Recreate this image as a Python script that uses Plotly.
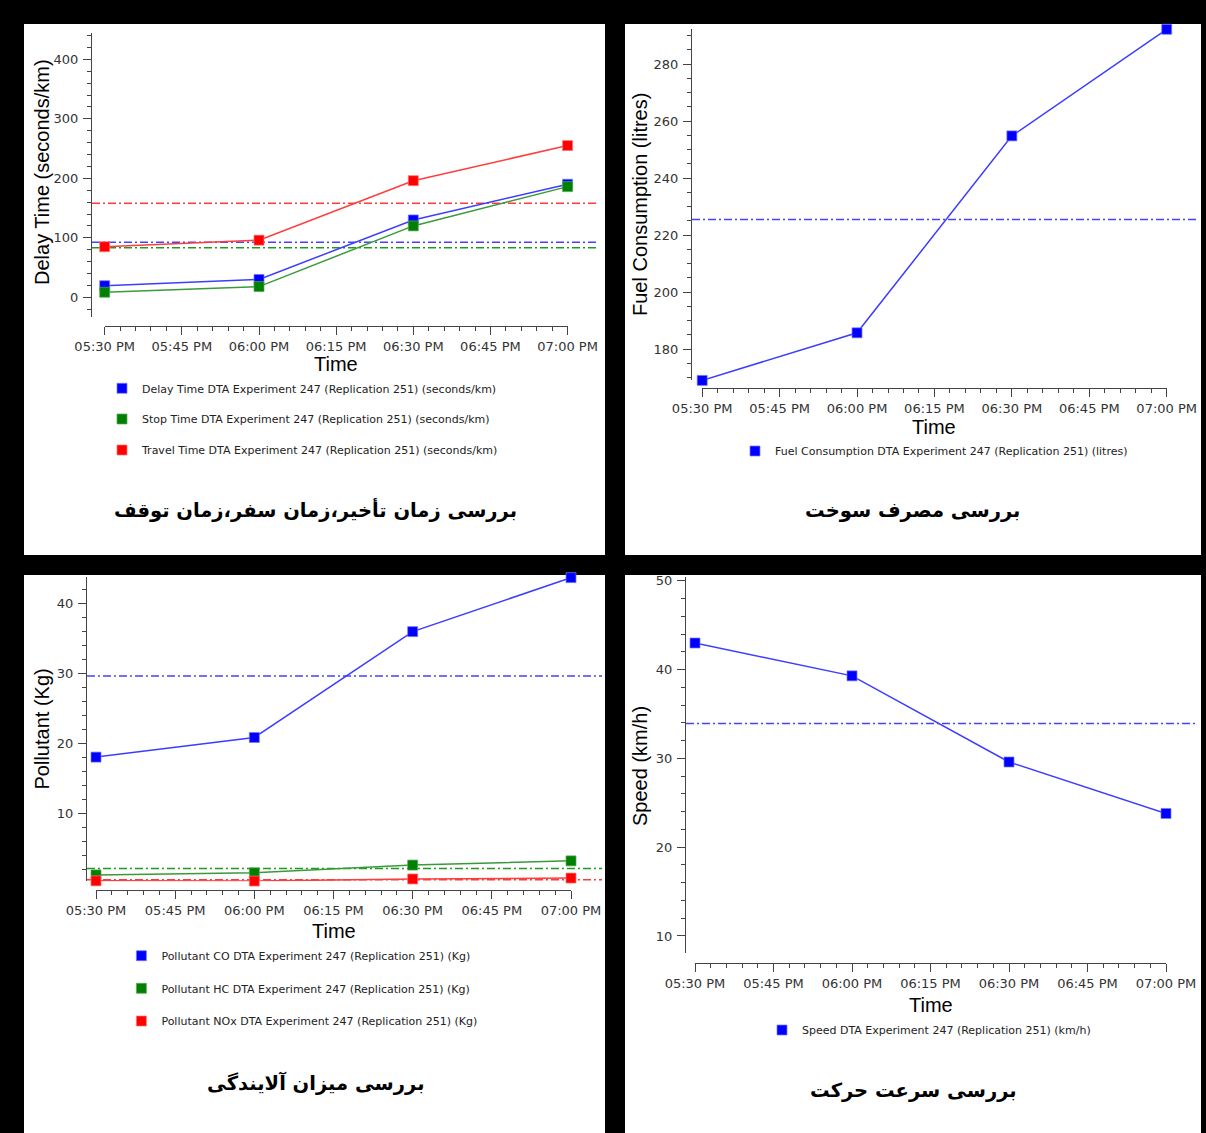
import plotly.graph_objects as go

W, H = 1206, 1133

# ---- data -------------------------------------------------------------
time_points = ["2013-05-04 17:30", "2013-05-04 18:00", "2013-05-04 18:30", "2013-05-04 19:00"]
tick_times = ["2013-05-04 17:30", "2013-05-04 17:45", "2013-05-04 18:00", "2013-05-04 18:15",
              "2013-05-04 18:30", "2013-05-04 18:45", "2013-05-04 19:00"]
tick_labels = ["05:30 PM", "05:45 PM", "06:00 PM", "06:15 PM", "06:30 PM", "06:45 PM", "07:00 PM"]

delay_time = [19.5, 30.0, 130.0, 190.0]
stop_time = [8.5, 18.0, 120.0, 186.0]
travel_time = [85.0, 96.0, 196.0, 255.0]
fuel_consumption = [169.0, 185.7, 254.8, 292.2]
pollutant_co = [18.1, 20.9, 36.0, 43.7]
pollutant_hc = [1.3, 1.6, 2.7, 3.3]
pollutant_nox = [0.45, 0.42, 0.72, 0.85]
speed = [43.0, 39.3, 29.6, 23.8]

series_names = {
    "delay": "Delay Time DTA Experiment 247 (Replication 251) (seconds/km)",
    "stop": "Stop Time DTA Experiment 247 (Replication 251) (seconds/km)",
    "travel": "Travel Time DTA Experiment 247 (Replication 251) (seconds/km)",
    "fuel": "Fuel Consumption DTA Experiment 247 (Replication 251) (litres)",
    "co": "Pollutant CO DTA Experiment 247 (Replication 251) (Kg)",
    "hc": "Pollutant HC DTA Experiment 247 (Replication 251) (Kg)",
    "nox": "Pollutant NOx DTA Experiment 247 (Replication 251) (Kg)",
    "speed": "Speed DTA Experiment 247 (Replication 251) (km/h)",
}

# ---- styling helpers ------------------------------------------------------
BLUE = dict(marker="#0000ff", line="#3d3dff", halo="rgba(120,120,255,0.7)", mean="#4444ff")
GREEN = dict(marker="#008000", line="#3a9a3a", halo="rgba(90,170,90,0.7)", mean="#219a21")
RED = dict(marker="#ff0000", line="#ff3d3d", halo="rgba(255,120,120,0.7)", mean="#ff3a3a")

AXC = "#444444"
TICKFONT = dict(family="DejaVu Sans", size=13, color="#333333")
LEGFONT = dict(family="DejaVu Sans", size=11, color="#222222")
TITLEFONT = dict(family="Liberation Sans", size=20, color="#000000")
FA_FONT = dict(family="DejaVu Sans", size=19.5, color="#000000", weight="bold")
DASHDOT = "8px,3px,2px,3px"


def fx(x):
    return x / W


def fy(y):
    return 1 - y / H


# panel frames and axis placement (pixels)
panels = [
    dict(box=(24, 24, 605, 555), yline=91, ytop=33.3, ybot=316.7, yrange=[-32.6, 443.7],
         ydtick=100, yminor=20, xl=104.7, xr=567.6, xline=326, mean_x=(92, 598),
         ytitle="Delay Time (seconds/km)", ytitle_xy=(42, 172), xtitle_y=364,
         fa="بررسی زمان تأخیر،زمان سفر،زمان توقف", fa_xy=(316, 510)),
    dict(box=(625, 24, 1201, 555), yline=691, ytop=29.3, ybot=380.4, yrange=[169.0, 292.2],
         ydtick=20, yminor=5, xl=702.2, xr=1166.7, xline=388, mean_x=(692, 1196),
         ytitle="Fuel Consumption (litres)", ytitle_xy=(640, 205), xtitle_y=427,
         fa="بررسی مصرف سوخت", fa_xy=(912, 510)),
    dict(box=(24, 575, 605, 1133), yline=86, ytop=577.3, ybot=881.2, yrange=[0.4, 43.75],
         ydtick=10, yminor=2, xl=96, xr=571, xline=890, mean_x=(87, 602),
         ytitle="Pollutant (Kg)", ytitle_xy=(41, 729.5), xtitle_y=930.5,
         fa="بررسی میزان آلایندگی", fa_xy=(315, 1083)),
    dict(box=(625, 575, 1201, 1133), yline=685, ytop=577.3, ybot=953.3, yrange=[8.05, 50.4],
         ydtick=10, yminor=2, xl=695, xr=1166, xline=963, mean_x=(686, 1196),
         ytitle="Speed (km/h)", ytitle_xy=(640, 766), xtitle_y=1004.5,
         fa="بررسی سرعت حرکت", fa_xy=(913, 1090)),
]

# series per panel: (values, colour set, legend key, legend text-start x, legend y)
panel_series = [
    [(delay_time, BLUE, "delay", 142, 388.3),
     (stop_time, GREEN, "stop", 142, 419),
     (travel_time, RED, "travel", 142, 450)],
    [(fuel_consumption, BLUE, "fuel", 775, 451)],
    [(pollutant_co, BLUE, "co", 161.4, 955.7),
     (pollutant_hc, GREEN, "hc", 161.4, 988.3),
     (pollutant_nox, RED, "nox", 161.4, 1021)],
    [(speed, BLUE, "speed", 802, 1030)],
]

fig = go.Figure()
shapes = []
annotations = []
layout = {}
legend_no = 0

for i, (p, series) in enumerate(zip(panels, panel_series), start=1):
    xa = "x" if i == 1 else f"x{i}"
    ya = "y" if i == 1 else f"y{i}"
    x0, y0, x1, y1 = p["box"]
    shapes.append(dict(type="rect", xref="paper", yref="paper", x0=fx(x0), x1=fx(x1),
                       y0=fy(y1), y1=fy(y0), fillcolor="white", line=dict(width=0),
                       layer="below"))

    for values, col, key, text_x, leg_y in series:
        legend_no += 1
        leg_id = "legend" if legend_no == 1 else f"legend{legend_no}"
        fig.add_trace(go.Scatter(
            x=time_points, y=values, mode="lines", xaxis=xa, yaxis=ya,
            line=dict(color=col["line"], width=1.5), showlegend=False, hoverinfo="skip"))
        fig.add_trace(go.Scatter(
            x=time_points, y=values, mode="markers", xaxis=xa, yaxis=ya,
            name=series_names[key], legend=leg_id, cliponaxis=False,
            marker=dict(symbol="square", size=10, color=col["marker"],
                        line=dict(color=col["halo"], width=1))))
        # average of the series as a dash-dot reference line
        mean_val = sum(values) / len(values)
        shapes.append(dict(type="line", xref="paper", yref=ya,
                           x0=fx(p["mean_x"][0]), x1=fx(p["mean_x"][1]),
                           y0=mean_val, y1=mean_val,
                           line=dict(color=col["mean"], width=1.5, dash=DASHDOT),
                           layer="below"))
        layout[leg_id] = dict(x=fx(text_x - 40), y=fy(leg_y), xanchor="left", yanchor="middle",
                              bgcolor="rgba(0,0,0,0)", borderwidth=0, font=LEGFONT,
                              itemclick=False, itemdoubleclick=False)

    xkey = "xaxis" if i == 1 else f"xaxis{i}"
    ykey = "yaxis" if i == 1 else f"yaxis{i}"
    layout[xkey] = dict(
        type="date", domain=[fx(p["xl"]), fx(p["xr"])],
        range=[time_points[0], time_points[-1]],
        anchor="free", position=fy(p["xline"]), automargin=False,
        showline=True, linecolor=AXC, linewidth=1, mirror=False,
        ticks="outside", ticklen=8, tickcolor=AXC, tickwidth=1,
        tickmode="array", tickvals=tick_times, ticktext=tick_labels,
        tickfont=TICKFONT, showgrid=False, zeroline=False, fixedrange=True,
        minor=dict(ticks="outside", ticklen=4, tickcolor=AXC, tickwidth=1,
                   dtick=180000, tick0=time_points[0], showgrid=False))
    layout[ykey] = dict(
        domain=[fy(p["ybot"]), fy(p["ytop"])], range=p["yrange"],
        anchor="free", position=fx(p["yline"]), automargin=False,
        showline=True, linecolor=AXC, linewidth=1,
        ticks="outside", ticklen=8, tickcolor=AXC, tickwidth=1,
        dtick=p["ydtick"], tick0=0, tickfont=TICKFONT, ticklabelstandoff=2,
        showgrid=False, zeroline=False, fixedrange=True,
        minor=dict(ticks="outside", ticklen=4, tickcolor=AXC, tickwidth=1,
                   dtick=p["yminor"], tick0=0, showgrid=False))

    tx, tyy = p["ytitle_xy"]
    annotations.append(dict(text=p["ytitle"], xref="paper", yref="paper", x=fx(tx), y=fy(tyy),
                            textangle=-90, showarrow=False, xanchor="center", yanchor="middle",
                            font=TITLEFONT))
    annotations.append(dict(text="Time", xref="paper", yref="paper",
                            x=fx((p["xl"] + p["xr"]) / 2), y=fy(p["xtitle_y"]),
                            showarrow=False, xanchor="center", yanchor="middle", font=TITLEFONT))
    fax, fay = p["fa_xy"]
    annotations.append(dict(text=p["fa"], xref="paper", yref="paper", x=fx(fax), y=fy(fay),
                            showarrow=False, xanchor="center", yanchor="middle", font=FA_FONT))

fig.update_layout(
    width=W, height=H, margin=dict(l=0, r=0, t=0, b=0, pad=0, autoexpand=False),
    paper_bgcolor="black", plot_bgcolor="white",
    shapes=shapes, annotations=annotations, hovermode=False,
    **layout)

fig.write_html("out.html", config=dict(displayModeBar=False))
